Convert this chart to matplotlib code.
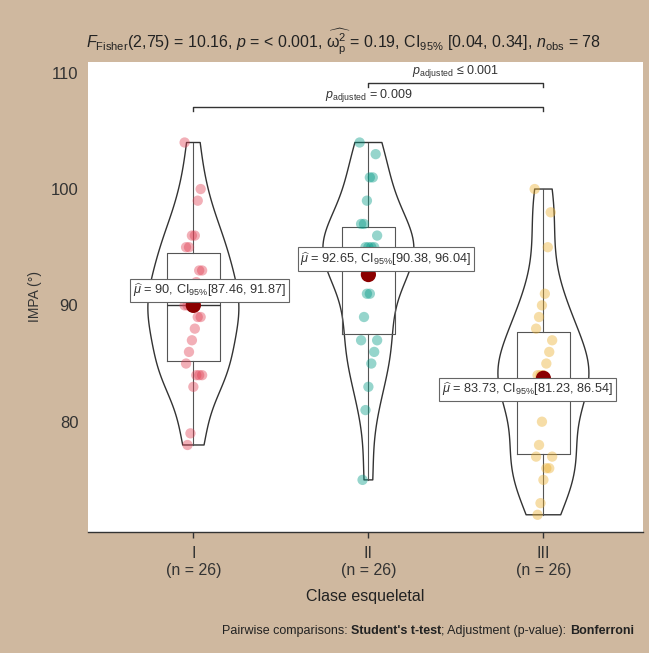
import numpy as np
import matplotlib
matplotlib.use("Agg")
import matplotlib.pyplot as plt

plt.rcParams['font.family'] = ['Liberation Sans', 'DejaVu Sans']
plt.rcParams['mathtext.fontset'] = 'custom'
plt.rcParams['mathtext.rm'] = 'Liberation Sans'
plt.rcParams['mathtext.it'] = 'Liberation Sans:italic'
plt.rcParams['mathtext.bf'] = 'Liberation Sans:bold'

# data
groups = ["I", "II", "III"]
clase_I = [104, 100, 99, 96, 96, 95, 95, 93, 93, 92, 91, 90, 90, 90, 89, 89,
           88, 87, 86, 85, 84, 84, 84, 83, 79, 78]
clase_II = [104, 103, 101, 101, 99, 97, 97, 96, 95, 95, 95, 95, 94, 94, 94, 94,
            91, 91, 89, 87, 87, 86, 85, 83, 81, 75]
clase_III = [100, 98, 95, 91, 90, 89, 88, 87, 86, 85, 84, 84, 84, 83, 83, 83,
             83, 80, 78, 77, 77, 76, 76, 75, 73, 72]
means = [90.00, 92.65, 83.73]
ci_low = [87.46, 90.38, 81.23]
ci_high = [91.87, 96.04, 86.54]
n_obs = [26, 26, 26]
point_colors = ['#E14155', '#059B87', '#EBAF2D']

data = [clase_I, clase_II, clase_III]
pos = np.arange(1, 4)

bg = '#CFB89F'
fig = plt.figure(figsize=(6.49, 6.53), dpi=100, facecolor=bg)
ax = fig.add_axes([88 / 649, 1 - 532 / 653, (643 - 88) / 649, (532 - 62) / 653])
ax.set_facecolor('white')

# violins
vp = ax.violinplot(data, positions=pos, widths=0.52, showextrema=False, bw_method=0.42)
for body in vp['bodies']:
    body.set_facecolor('none')
    body.set_edgecolor('#333333')
    body.set_linewidth(1.0)
    body.set_alpha(1)
    body.set_zorder(2)

# boxplots
ax.boxplot(data, positions=pos, widths=0.3, showfliers=False, showcaps=False,
           boxprops=dict(color='#555555', linewidth=0.8),
           whiskerprops=dict(color='#555555', linewidth=0.8),
           medianprops=dict(color='#333333', linewidth=1.0),
           zorder=2)

# jittered points
for i, vals in enumerate(data):
    n = len(vals)
    jit = (((np.arange(n) * 37) % 13) - 6) / 6 * 0.05
    ax.scatter(pos[i] + jit, vals, s=55, color=point_colors[i], alpha=0.42,
               edgecolors='none', zorder=3)

# means
ax.scatter(pos, means, s=120, color='#8B0000', zorder=5, edgecolors='none')

label_offsets = [(0.093, 1.28), (0.10, 1.34), (-0.09, -0.96)]
for i in range(3):
    txt = (r"$\widehat{\mu}$ = " + f"{means[i]:g}" + r", CI$_{95\%}$[" +
           f"{ci_low[i]:.2f}, {ci_high[i]:.2f}]")
    ax.text(pos[i] + label_offsets[i][0], means[i] + label_offsets[i][1], txt,
            ha='center', va='center', fontsize=9.2, color='#333333', zorder=6,
            bbox=dict(boxstyle='square,pad=0.22', facecolor='white',
                      edgecolor='#666666', linewidth=0.8))

# pairwise brackets
brackets = [(1, 3, 107.05, r"$p_{\rm adjusted}$ = 0.009"),
            (2, 3, 109.1, r"$p_{\rm adjusted}$ ≤ 0.001")]
for x1, x2, yb, lab in brackets:
    ax.plot([x1, x1, x2, x2], [yb - 0.35, yb, yb, yb - 0.35], color='#333333',
            linewidth=1.0, zorder=4)
    ax.text((x1 + x2) / 2, yb + 0.3, lab, ha='center', va='bottom', fontsize=9,
            color='#333333')

ax.set_xlim(0.398, 3.569)
ax.set_ylim(70.52, 110.92)
ax.set_yticks([80, 90, 100, 110])
ax.set_xticks(pos)
ax.set_xticklabels([f"{g}\n(n = {n})" for g, n in zip(groups, n_obs)])
ax.tick_params(axis='y', length=0, labelsize=12, labelcolor='#333333', pad=7)
ax.tick_params(axis='x', length=4, width=1, color='#333333', labelsize=11.5,
               labelcolor='#333333', pad=6)
for s in ['top', 'right', 'left']:
    ax.spines[s].set_visible(False)
ax.spines['bottom'].set_color('#333333')
ax.spines['bottom'].set_linewidth(1.0)

ax.set_xlabel("Clase esqueletal", fontsize=11.5, color='#222222', labelpad=8)
ax.set_ylabel("IMPA (°)", fontsize=10, color='#333333', labelpad=6)

fig.text(343 / 649, 1 - 42 / 653,
         r"$F_{\rm Fisher}$(2,75) = 10.16, $p$ = < 0.001, $\widehat{\mathrm{\omega}_{\rm p}^{2}}$ = 0.19, "
         r"CI$_{95\%}$ [0.04, 0.34], $n_{\rm obs}$ = 78",
         ha='center', va='center', fontsize=11.5, color='#222222')

# footer caption with bold parts
pieces = [("Pairwise comparisons: ", 'normal'), ("Student's t-test", 'bold'),
          ("; Adjustment (p-value): ", 'normal'), ("Bonferroni", 'bold')]
fig.canvas.draw()
renderer = fig.canvas.get_renderer()
x = 222 / 649
for s, w in pieces:
    t = fig.text(x, 1 - 631 / 653, s, ha='left', va='center', fontsize=9.0,
                 fontweight=w, color='#222222')
    bb = t.get_window_extent(renderer=renderer)
    x = bb.x1 / fig.bbox.width

fig.savefig("out.png", dpi=100, facecolor=bg)
